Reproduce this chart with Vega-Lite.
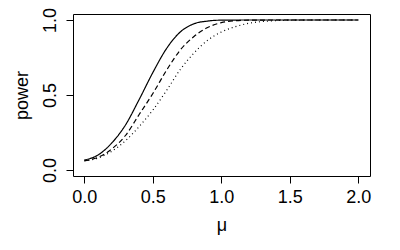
{
  "$schema": "https://vega.github.io/schema/vega-lite/v6.json",
  "width": 297,
  "height": 162,
  "autosize": {"type": "none"},
  "padding": {"left": 73, "top": 14, "right": 30, "bottom": 74},
  "background": "white",
  "config": {
    "font": "Liberation Sans",
    "view": {"stroke": "black", "strokeWidth": 1},
    "axis": {"grid": false, "domain": false, "tickColor": "black", "tickSize": 7, "labelFontSize": 18, "titleFontSize": 18, "labelColor": "black", "titleColor": "black", "titleFontWeight": "normal", "labelFont": "Liberation Sans", "titleFont": "Liberation Sans"}
  },
  "data": {"values": [
    {"mu": 0.0, "power": 0.067, "s": "a"},
    {"mu": 0.1, "power": 0.10, "s": "a"},
    {"mu": 0.2, "power": 0.18, "s": "a"},
    {"mu": 0.3, "power": 0.30, "s": "a"},
    {"mu": 0.4, "power": 0.47, "s": "a"},
    {"mu": 0.5, "power": 0.65, "s": "a"},
    {"mu": 0.6, "power": 0.81, "s": "a"},
    {"mu": 0.7, "power": 0.92, "s": "a"},
    {"mu": 0.8, "power": 0.975, "s": "a"},
    {"mu": 0.9, "power": 0.993, "s": "a"},
    {"mu": 1.0, "power": 0.999, "s": "a"},
    {"mu": 1.2, "power": 1.0, "s": "a"},
    {"mu": 1.5, "power": 1.0, "s": "a"},
    {"mu": 2.0, "power": 1.0, "s": "a"},
    {"mu": 0.0, "power": 0.062, "s": "b"},
    {"mu": 0.1, "power": 0.085, "s": "b"},
    {"mu": 0.2, "power": 0.14, "s": "b"},
    {"mu": 0.3, "power": 0.23, "s": "b"},
    {"mu": 0.4, "power": 0.37, "s": "b"},
    {"mu": 0.5, "power": 0.51, "s": "b"},
    {"mu": 0.6, "power": 0.665, "s": "b"},
    {"mu": 0.7, "power": 0.80, "s": "b"},
    {"mu": 0.8, "power": 0.89, "s": "b"},
    {"mu": 0.9, "power": 0.95, "s": "b"},
    {"mu": 1.0, "power": 0.982, "s": "b"},
    {"mu": 1.1, "power": 0.995, "s": "b"},
    {"mu": 1.2, "power": 0.999, "s": "b"},
    {"mu": 1.4, "power": 1.0, "s": "b"},
    {"mu": 2.0, "power": 1.0, "s": "b"},
    {"mu": 0.0, "power": 0.06, "s": "c"},
    {"mu": 0.1, "power": 0.08, "s": "c"},
    {"mu": 0.2, "power": 0.125, "s": "c"},
    {"mu": 0.3, "power": 0.195, "s": "c"},
    {"mu": 0.4, "power": 0.29, "s": "c"},
    {"mu": 0.5, "power": 0.40, "s": "c"},
    {"mu": 0.6, "power": 0.53, "s": "c"},
    {"mu": 0.7, "power": 0.67, "s": "c"},
    {"mu": 0.8, "power": 0.78, "s": "c"},
    {"mu": 0.9, "power": 0.865, "s": "c"},
    {"mu": 1.0, "power": 0.92, "s": "c"},
    {"mu": 1.1, "power": 0.955, "s": "c"},
    {"mu": 1.2, "power": 0.978, "s": "c"},
    {"mu": 1.3, "power": 0.99, "s": "c"},
    {"mu": 1.4, "power": 0.996, "s": "c"},
    {"mu": 1.5, "power": 0.999, "s": "c"},
    {"mu": 1.7, "power": 1.0, "s": "c"},
    {"mu": 2.0, "power": 1.0, "s": "c"}
  ]},
  "mark": {"type": "line", "color": "black", "strokeWidth": 1.2, "interpolate": "monotone", "clip": true},
  "encoding": {
    "x": {"field": "mu", "type": "quantitative", "title": "μ",
      "scale": {"domain": [-0.083, 2.085], "nice": false, "zero": false},
      "axis": {"values": [0, 0.5, 1, 1.5, 2], "format": ".1f", "labelPadding": 5, "titlePadding": 10}},
    "y": {"field": "power", "type": "quantitative", "title": "power",
      "scale": {"domain": [-0.04, 1.04], "nice": false, "zero": false},
      "axis": {"values": [0, 0.5, 1], "format": ".1f", "labelAngle": -90, "labelAlign": "center", "labelBaseline": "alphabetic", "labelPadding": 11, "titlePadding": 10}},
    "detail": {"field": "s"},
    "strokeDash": {"field": "s", "type": "nominal", "legend": null,
      "scale": {"domain": ["a", "b", "c"], "range": [[1, 0], [5, 3], [1, 3]]}}
  }
}
